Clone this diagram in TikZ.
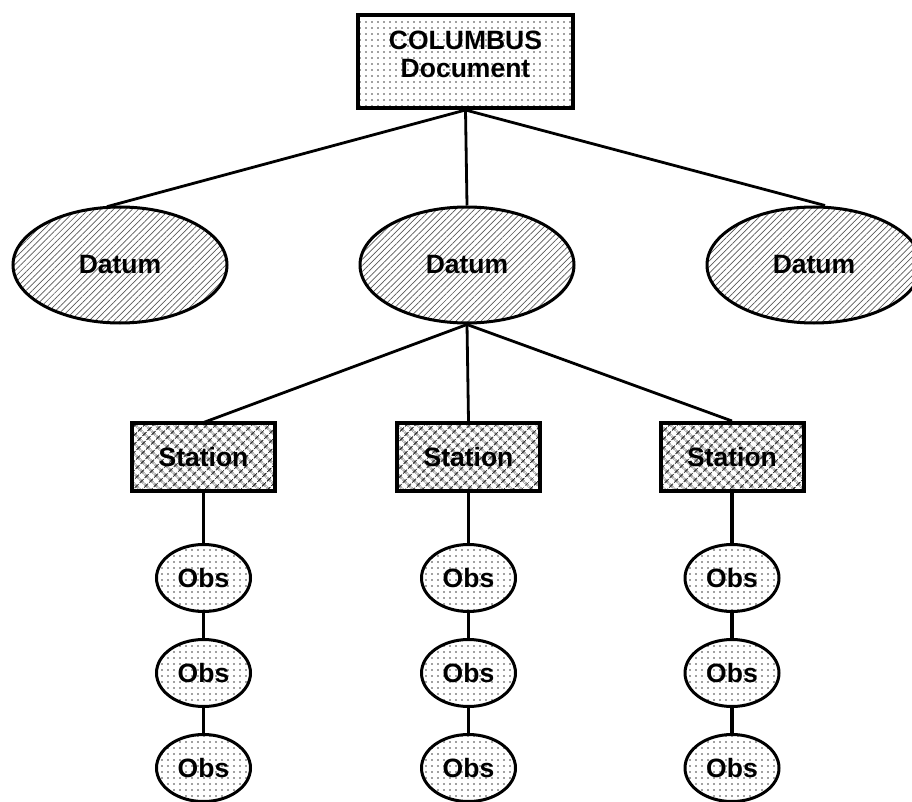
\documentclass[tikz,border=0pt]{standalone}
\usepackage{fontspec}
\setmainfont{Liberation Sans}
\usetikzlibrary{shapes.geometric,patterns,patterns.meta}
\begin{document}
\begin{tikzpicture}[x=1pt,y=-1pt,
  lbl/.style={font=\fontsize{26.5}{28}\selectfont\bfseries},
  docbox/.style={lbl, draw, line width=4pt, minimum width=215pt, minimum height=93pt,
    inner sep=0pt, align=center, text depth=15pt,
    pattern={Dots[distance=6pt,radius=0.8pt]}, pattern color=black!75},
  datum/.style={lbl, ellipse, draw, line width=3pt, minimum width=214pt, minimum height=116pt,
    inner sep=0pt, pattern={Lines[angle=45,distance=4.4pt,line width=0.7pt]}, pattern color=black!65},
  stationbox/.style={lbl, draw, line width=4pt, minimum width=143pt, minimum height=68pt,
    inner sep=0pt, pattern={Hatch[angle=45,distance=6.4pt,line width=1pt]}, pattern color=black!85},
  obs/.style={lbl, ellipse, draw, line width=3pt, minimum width=94pt, minimum height=67pt,
    inner sep=0pt, pattern={Dots[distance=6pt,radius=0.8pt]}, pattern color=black!75},
  conn/.style={line width=2.8pt},
  vconn/.style={line width=3.4pt}
]
\useasboundingbox (0,0) rectangle (912,802);

\node[docbox] (doc) at (465.5,61.5) {COLUMBUS\\Document};

\node[datum] (dl) at (120,265) {Datum};
\node[datum] (dc) at (467,265) {Datum};
\node[datum] (dr) at (814,265) {Datum};

\node[stationbox] (s1) at (203.5,457) {Station};
\node[stationbox] (s2) at (468.5,457) {Station};
\node[stationbox] (s3) at (732,457) {Station};

\foreach \i/\x in {1/203.5,2/468.5,3/732}{
  \node[obs] (o\i a) at (\x,578) {Obs};
  \node[obs] (o\i b) at (\x,673) {Obs};
  \node[obs] (o\i c) at (\x,768) {Obs};
}

\draw[conn] (doc.south) -- ([xshift=-13pt]dl.north);
\draw[conn] (doc.south) -- (dc.north);
\draw[conn] (doc.south) -- ([xshift=11pt]dr.north);

\draw[conn] (dc.south) -- (s1.north);
\draw[conn] (dc.south) -- (s2.north);
\draw[conn] (dc.south) -- (s3.north);

\foreach \i in {1,2,3}{
  \draw[vconn] (s\i.south) -- (o\i a.north);
  \draw[vconn] (o\i a.south) -- (o\i b.north);
  \draw[vconn] (o\i b.south) -- (o\i c.north);
}
\end{tikzpicture}
\end{document}
